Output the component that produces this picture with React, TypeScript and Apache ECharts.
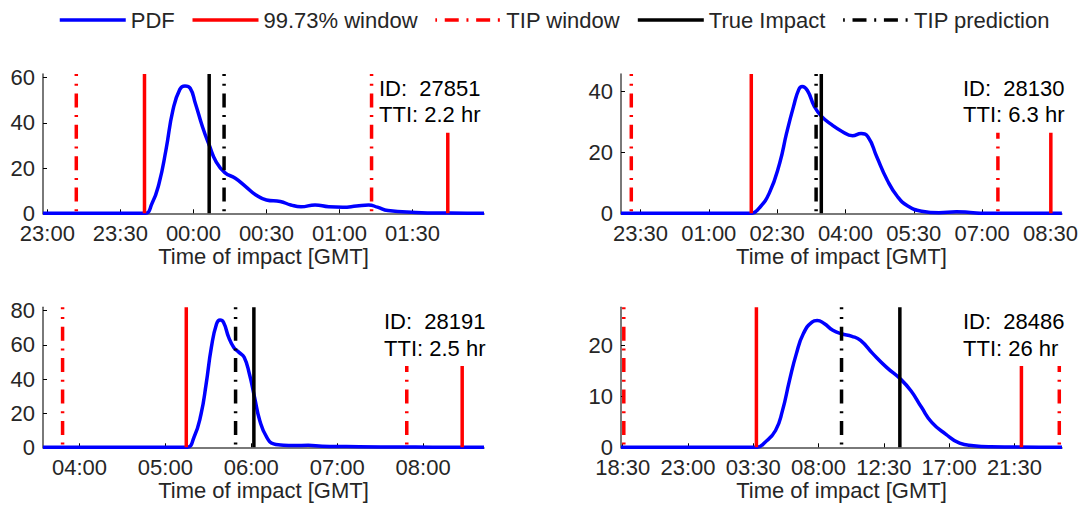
import React, { useEffect, useRef } from "react";
import * as echarts from "echarts";

// ---------------- data (time in hours, may exceed 24 = next day) ----------------
const LEGEND_NAMES = ["PDF", "99.73% window", "TIP window", "True Impact", "TIP prediction"];
const PANEL_IDS = ["27851", "28130", "28191", "28486"];
const PANEL_TTI = ["2.2 hr", "6.3 hr", "2.5 hr", "26 hr"];
const X_LABEL = "Time of impact [GMT]";

// axis ranges and tick values
const xRange1 = [22.97, 25.99];
const xRange2 = [23.072, 32.75];
const xRange3 = [3.575, 8.709];
const xRange4 = [18.383, 48.78];
const xTicks1 = [23, 23.5, 24, 24.5, 25, 25.5];
const xTicks2 = [23.5, 25, 26.5, 28, 29.5, 31, 32.5];
const xTicks3 = [4, 5, 6, 7, 8];
const xTicks4 = [18.5, 23, 27.5, 32, 36.5, 41, 45.5];
const yMax = [61.6, 45.6, 82, 27.5];
const yTicks1 = [0, 20, 40, 60];
const yTicks2 = [0, 20, 40];
const yTicks3 = [0, 20, 40, 60, 80];
const yTicks4 = [0, 10, 20];

// PDF curves [time(h), density]
const pdf27851: [number, number][] = [
  [23.665, 0], [23.717, 4.4], [23.765, 13.3], [23.812, 28], [23.86, 45.7], [23.907, 54.8],
  [23.942, 56.3], [23.978, 55.3], [24.013, 48.7], [24.062, 38.3], [24.108, 30.2], [24.155, 22.9],
  [24.215, 18], [24.287, 15.5], [24.358, 11.8], [24.428, 8.1], [24.5, 5.9], [24.595, 5.2],
  [24.667, 3.7], [24.737, 2.9], [24.833, 3.7], [24.927, 2.9], [25.023, 2.7], [25.117, 3.2],
  [25.2, 3.7], [25.26, 2.7], [25.332, 1.2], [25.522, 0.4], [25.758, 0.1],
];
const pdf28130: [number, number][] = [
  [25.932, 0], [26.099, 1.6], [26.327, 6.6], [26.555, 16.4], [26.708, 26.3], [26.86, 35],
  [26.974, 40.5], [27.05, 41.5], [27.164, 40.2], [27.316, 35], [27.469, 31.8], [27.697, 29],
  [27.925, 26.8], [28.154, 25.4], [28.342, 26.1], [28.496, 25], [28.684, 18.6], [28.912, 11],
  [29.14, 5.5], [29.368, 2.4], [29.673, 0.7], [30.053, 0.2], [30.434, 0.5], [30.739, 0.3],
  [31.041, 0],
];
const pdf28191: [number, number][] = [
  [5.245, 0], [5.333, 5.9], [5.415, 19.5], [5.474, 37], [5.535, 58.5], [5.595, 72.2],
  [5.636, 74.5], [5.676, 73.2], [5.737, 64.4], [5.796, 58.5], [5.857, 55.6], [5.917, 52.7],
  [5.978, 42.9], [6.038, 29.3], [6.099, 15.6], [6.179, 5.9], [6.26, 2], [6.341, 1.4],
  [6.501, 1], [6.663, 1.2], [6.824, 0.6], [7.105, 0.4], [7.509, 0.2], [7.911, 0.2], [8.314, 0],
];
const pdf28486: [number, number][] = [
  [27.716, 0], [28.317, 1], [29.035, 3.3], [29.512, 7.2], [29.994, 13.1], [30.471, 18.4],
  [30.948, 22.3], [31.549, 24.6], [31.906, 24.9], [32.383, 24.3], [32.984, 23], [33.584, 22.3],
  [34.302, 21.8], [34.896, 21], [35.738, 18.4], [36.691, 15.7], [37.65, 13.4], [38.368, 11.1],
  [39.086, 7.9], [39.804, 4.9], [40.763, 2.6], [41.723, 0.8], [42.677, 0.3], [43.878, 0.1],
];

// vertical markers (hours)
const window99 = [[23.665, 25.742], [25.932, 32.508], [5.243, 8.455], [27.716, 45.983]];
const tipWindow = [[23.198, 25.22], [23.298, 31.346], [3.803, 7.81], [18.576, 48.593]];
const trueImpact = [24.108, 27.469, 6.03, 37.604];
const tipPrediction = [24.21, 27.355, 5.817, 33.584];

// ---------------- layout & style ----------------
const FONT = "'Liberation Sans', Arial, Helvetica, sans-serif";
const TXT = "#262626";
const AXIS = "#4d4d4d";
const BLUE = "#0000ff";
const RED = "#ff0000";
const BLACK = "#000000";
const LW = 3.5;
const DASHDOT = [14, 7.7, 2, 7.7];
const GRIDS = [
  { left: 43, top: 74, width: 441, height: 139.3 },
  { left: 621, top: 74, width: 441, height: 139.3 },
  { left: 43, top: 307.3, width: 441, height: 140 },
  { left: 621, top: 307.3, width: 441, height: 140 },
];
const TEXT_LEFT = [379, 963, 384, 963];

const fmtTime = (h: number) => {
  let m = Math.round(h * 60);
  m = ((m % 1440) + 1440) % 1440;
  const hh = Math.floor(m / 60);
  const mm = m % 60;
  return `${String(hh).padStart(2, "0")}:${String(mm).padStart(2, "0")}`;
};

export default function App() {
  const ref = useRef<HTMLDivElement>(null);

  useEffect(() => {
    document.body.style.margin = "0";
    if (!ref.current) return;
    const chart = echarts.init(ref.current, undefined, { renderer: "svg" });

    const xRanges = [xRange1, xRange2, xRange3, xRange4];
    const xTicks = [xTicks1, xTicks2, xTicks3, xTicks4];
    const yTicks = [yTicks1, yTicks2, yTicks3, yTicks4];
    const pdfs = [pdf27851, pdf28130, pdf28191, pdf28486];

    const grid = GRIDS.map((g) => ({ ...g, containLabel: false }));

    const xAxis = xRanges.map((r, i) => ({
      type: "value",
      gridIndex: i,
      min: r[0],
      max: r[1],
      name: X_LABEL,
      nameLocation: "middle",
      nameGap: 31,
      nameTextStyle: { fontFamily: FONT, fontSize: 22, color: TXT },
      axisLine: { show: true, onZero: false, lineStyle: { color: AXIS, width: 1.5 } },
      axisTick: { show: true, inside: true, length: 4, customValues: xTicks[i], lineStyle: { color: BLACK } },
      axisLabel: {
        customValues: xTicks[i],
        formatter: (v: number) => fmtTime(v),
        fontFamily: FONT,
        fontSize: 22,
        color: TXT,
        margin: 9,
      },
      splitLine: { show: false },
    }));

    const yAxis = yMax.map((m, i) => ({
      type: "value",
      gridIndex: i,
      min: 0,
      max: m,
      axisLine: { show: true, onZero: false, lineStyle: { color: AXIS, width: 1.5 } },
      axisTick: { show: true, inside: true, length: 4, customValues: yTicks[i], lineStyle: { color: BLACK } },
      axisLabel: { customValues: yTicks[i], fontFamily: FONT, fontSize: 22, color: TXT, margin: 8 },
      splitLine: { show: false },
    }));

    const series: any[] = [];
    const vline = (i: number, name: string, x: number, color: string, dashed: boolean) => ({
      type: "line",
      name,
      xAxisIndex: i,
      yAxisIndex: i,
      data: [
        [x, yMax[i]],
        [x, 0],
      ],
      symbol: "none",
      silent: true,
      itemStyle: { color },
      lineStyle: dashed
        ? { color, width: LW, type: DASHDOT, dashOffset: 11.7, cap: "butt" }
        : { color, width: LW },
      z: 3,
    });

    for (let i = 0; i < 4; i++) {
      const r = xRanges[i];
      series.push({
        type: "line",
        name: LEGEND_NAMES[0],
        xAxisIndex: i,
        yAxisIndex: i,
        data: [[r[0], 0], ...pdfs[i], [r[1], 0]],
        symbol: "none",
        smooth: 0.5,
        itemStyle: { color: BLUE },
        lineStyle: { color: BLUE, width: LW },
        z: 2,
      });
      window99[i].forEach((x) => series.push(vline(i, LEGEND_NAMES[1], x, RED, false)));
      tipWindow[i].forEach((x) => series.push(vline(i, LEGEND_NAMES[2], x, RED, true)));
      series.push(vline(i, LEGEND_NAMES[3], trueImpact[i], BLACK, false));
      series.push(vline(i, LEGEND_NAMES[4], tipPrediction[i], BLACK, true));
    }

    const graphic: any[] = [];
    GRIDS.forEach((g, i) => {
      const right = g.left + g.width;
      const tl = TEXT_LEFT[i];
      graphic.push({
        type: "rect",
        z: 50,
        silent: true,
        shape: { x: tl - 4, y: g.top - 3, width: right + 8 - (tl - 4), height: 61.7 },
        style: { fill: "#ffffff" },
      });
      graphic.push({
        type: "text",
        z: 51,
        x: tl,
        y: g.top + 14.5,
        style: {
          text: `ID:  ${PANEL_IDS[i]}`,
          font: `22px ${FONT}`,
          fill: BLACK,
          verticalAlign: "middle",
          align: "left",
        },
      });
      graphic.push({
        type: "text",
        z: 51,
        x: tl,
        y: g.top + 40.8,
        style: {
          text: `TTI: ${PANEL_TTI[i]}`,
          font: `22px ${FONT}`,
          fill: BLACK,
          verticalAlign: "middle",
          align: "left",
        },
      });
    });

    chart.setOption({
      animation: false,
      backgroundColor: "#ffffff",
      legend: {
        left: 53,
        top: 4,
        itemWidth: 66,
        itemHeight: 14,
        itemGap: 16,
        textStyle: { fontFamily: FONT, fontSize: 22, color: TXT },
        itemStyle: { opacity: 0 },
        lineStyle: { width: LW },
        data: [
          { name: LEGEND_NAMES[0] },
          { name: LEGEND_NAMES[1] },
          { name: LEGEND_NAMES[2], lineStyle: { dashOffset: 22 } },
          { name: LEGEND_NAMES[3] },
          { name: LEGEND_NAMES[4], lineStyle: { dashOffset: 22 } },
        ],
      },
      grid,
      xAxis,
      yAxis,
      series,
      graphic,
    });

    return () => chart.dispose();
  }, []);

  return <div ref={ref} style={{ width: 1081, height: 509 }} />;
}
